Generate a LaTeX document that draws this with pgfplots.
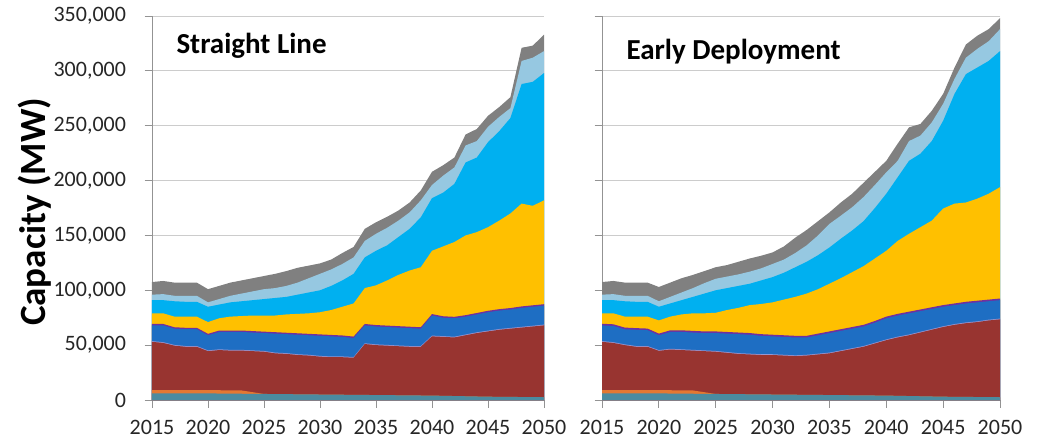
\documentclass[border=0pt]{standalone}
\usepackage{pgfplots}
\pgfplotsset{compat=1.18}
\usepackage{pgfplotstable}
\usepackage{fontspec}
\setmainfont{Carlito}
\definecolor{cTeal}{RGB}{75,139,160}
\definecolor{cOrng}{RGB}{228,120,50}
\definecolor{cRed}{RGB}{152,52,48}
\definecolor{cLav}{RGB}{150,150,210}
\definecolor{cBlue}{RGB}{30,110,195}
\definecolor{cPurp}{RGB}{112,48,160}
\definecolor{cYell}{RGB}{255,192,0}
\definecolor{cCyan}{RGB}{0,176,240}
\definecolor{cPale}{RGB}{150,200,225}
\definecolor{cGray}{RGB}{128,128,128}

% cumulative tops of each layer (MW)
\pgfplotstableread{
year teal orng red lav blue purp yell cyan pale gray
2015 6000 9000 53000 53700 68000 69300 79000 91000 96000 107500
2016 6000 9000 52000 52700 68000 69300 79000 91000 96500 108500
2017 6000 9000 49500 50200 65000 66300 76000 90000 95000 107000
2018 6000 9000 48500 49200 64500 65800 76000 89500 95000 107000
2019 6000 9000 48500 49200 64500 65800 76000 89500 95000 107000
2020 6000 9000 44500 45200 59000 60300 71000 85000 89000 101000
2021 5900 8900 45500 46200 62000 63300 74500 87000 92000 104000
2022 5800 8800 45000 45700 62000 63300 76000 89000 95000 107000
2023 5700 8700 45000 45700 62000 63300 76500 90000 97000 109000
2024 5600 7100 44500 45200 61500 62800 77000 91000 99000 111000
2025 5500 5500 44000 44700 61000 62300 77000 92000 101000 113000
2026 5400 5400 42500 43200 60500 61800 77000 93000 102000 115000
2027 5300 5300 42000 42700 60000 61300 78000 94000 104000 117500
2028 5200 5200 41000 41700 59500 60800 78500 96000 107000 120500
2029 5100 5100 40500 41200 59000 60300 79000 98000 111000 122500
2030 5000 5000 39500 40200 58500 59800 80000 100000 115000 124500
2031 4900 4900 39000 39700 58000 59300 82000 104000 119000 128000
2032 4800 4800 39000 39700 57500 58800 85000 109000 124000 134000
2033 4700 4700 38500 39200 56500 57800 88000 115000 130000 139500
2034 4600 4600 51000 51700 68000 69300 102000 130000 145000 156000
2035 4500 4500 50000 50700 67000 68300 104500 136000 151500 162000
2036 4400 4400 49500 50200 66500 67800 109000 141000 157000 167000
2037 4300 4300 49000 49700 66000 67300 114000 148500 163500 172700
2038 4200 4200 48500 49200 65500 66800 118000 156000 171000 180000
2039 4100 4100 48500 49200 65000 66300 121000 166500 182000 191000
2040 4000 4000 58000 58700 77000 78300 136000 184000 196000 208000
2041 3800 3800 57500 58200 75000 76300 140000 189000 204500 214000
2042 3600 3600 57000 57700 74500 75800 144000 197000 212000 221000
2043 3400 3400 59000 59700 76000 77300 150000 216500 232000 242000
2044 3200 3200 61000 61700 78000 79300 153000 221000 236000 247000
2045 3000 3000 62500 63200 80000 81300 157500 235000 249000 259000
2046 2900 2900 64000 64700 81500 82800 163500 245000 258000 267000
2047 2800 2800 65000 65700 82500 83800 170000 257000 266000 276000
2048 2700 2700 66000 66700 84000 85300 179000 288000 309000 321000
2049 2600 2600 67000 67700 85000 86300 177000 290000 312000 323000
2050 2500 2500 68000 68700 86000 87300 182000 298000 318000 333000
}\SL

\pgfplotstableread{
year teal orng red lav blue purp yell cyan pale gray
2015 6000 9000 53000 53700 68000 69500 79000 91000 96000 107500
2016 6000 9000 52000 52700 67500 69000 79000 91000 96500 108500
2017 6000 9000 50000 50700 64500 66000 76000 90000 95000 107000
2018 6000 9000 48500 49200 64000 65500 76000 89500 95000 107000
2019 6000 9000 48500 49200 63600 65100 76000 89500 95000 107000
2020 6000 9000 44800 45500 59000 60500 72500 85000 90000 103000
2021 5900 8900 46000 46700 62000 63500 76000 88000 94000 107000
2022 5800 8800 45500 46200 62000 63500 78000 91000 98000 111000
2023 5700 8700 45000 45700 61500 63000 79000 94000 102000 114000
2024 5600 7100 44500 45200 61000 62500 79000 97000 106500 117500
2025 5500 5500 44000 44700 61000 62500 79500 100000 110500 121000
2026 5400 5400 43000 43700 60500 62000 82000 102000 112500 123000
2027 5300 5300 42000 42700 60000 61500 84000 104000 114500 126000
2028 5200 5200 41500 42200 59500 61000 86500 106000 117000 129000
2029 5100 5100 41000 41700 58500 60000 87500 109000 120000 131500
2030 5000 5000 41000 41700 58000 59500 89000 112000 124000 134500
2031 4900 4900 40500 41200 57500 59000 91500 116000 128000 140000
2032 4800 4800 40000 40700 57000 58500 94000 121000 134000 148000
2033 4700 4700 40500 41200 57000 58500 97000 126000 141000 155000
2034 4600 4600 41500 42200 59000 60500 101000 132000 150000 163000
2035 4500 4500 42500 43200 61000 62500 106000 139000 160500 171000
2036 4400 4400 44500 45200 63000 64500 111000 147000 168000 180000
2037 4300 4300 46500 47200 65000 66500 116500 154500 175700 188000
2038 4200 4200 48500 49200 67000 68500 122000 163000 185000 198000
2039 4100 4100 51500 52200 70500 72000 129000 175000 196000 208000
2040 4000 4000 54500 55200 74500 76000 136000 188000 207500 218000
2041 3800 3800 57000 57700 77000 78500 145000 203000 218000 233600
2042 3600 3600 59000 59700 79000 80500 151500 218000 236000 248500
2043 3400 3400 61500 62200 81000 82500 157500 224500 241000 251600
2044 3200 3200 64000 64700 83000 84500 163500 236000 253000 263600
2045 3000 3000 66500 67200 85000 86500 174500 254500 270000 279000
2046 2900 2900 68500 69200 86500 88000 179000 279000 292700 303000
2047 2800 2800 70000 70700 88000 89500 180000 297000 312000 324000
2048 2700 2700 71000 71700 89000 90500 183500 303000 320000 332000
2049 2600 2600 72500 73200 90000 91500 188000 309000 327000 338000
2050 2500 2500 73500 74200 91000 92500 194000 318000 338000 348000
}\ED

\newcommand\stackplots[1]{%
  \addplot[fill=cGray,draw=none] table[x=year,y=gray]{#1}\closedcycle;
  \addplot[fill=cPale,draw=none] table[x=year,y=pale]{#1}\closedcycle;
  \addplot[fill=cCyan,draw=none] table[x=year,y=cyan]{#1}\closedcycle;
  \addplot[fill=cYell,draw=none] table[x=year,y=yell]{#1}\closedcycle;
  \addplot[fill=cPurp,draw=none] table[x=year,y=purp]{#1}\closedcycle;
  \addplot[fill=cBlue,draw=none] table[x=year,y=blue]{#1}\closedcycle;
  \addplot[fill=cLav,draw=none] table[x=year,y=lav]{#1}\closedcycle;
  \addplot[fill=cRed,draw=none] table[x=year,y=red]{#1}\closedcycle;
  \addplot[fill=cOrng,draw=none] table[x=year,y=orng]{#1}\closedcycle;
  \addplot[fill=cTeal,draw=none] table[x=year,y=teal]{#1}\closedcycle;
}

\pgfplotsset{stackax/.style={
  scale only axis, height=384bp,
  ymin=0, ymax=350000, xmin=2015, xmax=2050,
  axis lines*=left,
  axis line style={draw=gray!85, line width=0.8pt},
  tick style={draw=gray!85, line width=0.8pt},
  tick align=outside, major tick length=7.5bp,
  ymajorgrids, grid style={draw=gray!40, line width=0.9pt},
  xtick={2015,2020,...,2050}, ytick={0,50000,...,350000},
  scaled y ticks=false, scaled x ticks=false,
  x tick label style={/pgf/number format/.cd, fixed, 1000 sep={}, /tikz/.cd, yshift=-9bp},
  y tick label style={/pgf/number format/.cd, fixed, 1000 sep={,}, /tikz/.cd, xshift=-15bp},
  /pgf/number format/assume math mode=true,
  ticklabel style={font=\fontsize{22bp}{26bp}\selectfont, text=black!85},
}}

\begin{document}
\begin{tikzpicture}
\useasboundingbox (-152bp,-43bp) rectangle (890bp,400bp);
\begin{axis}[stackax, width=392bp, at={(0bp,0bp)}, anchor=south west,
  ylabel={Capacity (MW)},
  ylabel style={at={(axis description cs:-0.2985,0.49)}, anchor=center,
    font=\bfseries\fontsize{37bp}{40bp}\selectfont},
]
\stackplots{\SL}
\node[anchor=base west, font=\bfseries\fontsize{29bp}{30bp}\selectfont]
  at (axis description cs:0.0536,0.9036) {Straight Line};
\end{axis}
\begin{axis}[stackax, width=398bp, at={(450bp,0bp)}, anchor=south west,
  yticklabels={},
]
\stackplots{\ED}
\node[anchor=base west, font=\bfseries\fontsize{29bp}{30bp}\selectfont]
  at (axis description cs:0.0528,0.888) {Early Deployment};
\end{axis}
\end{tikzpicture}
\end{document}
